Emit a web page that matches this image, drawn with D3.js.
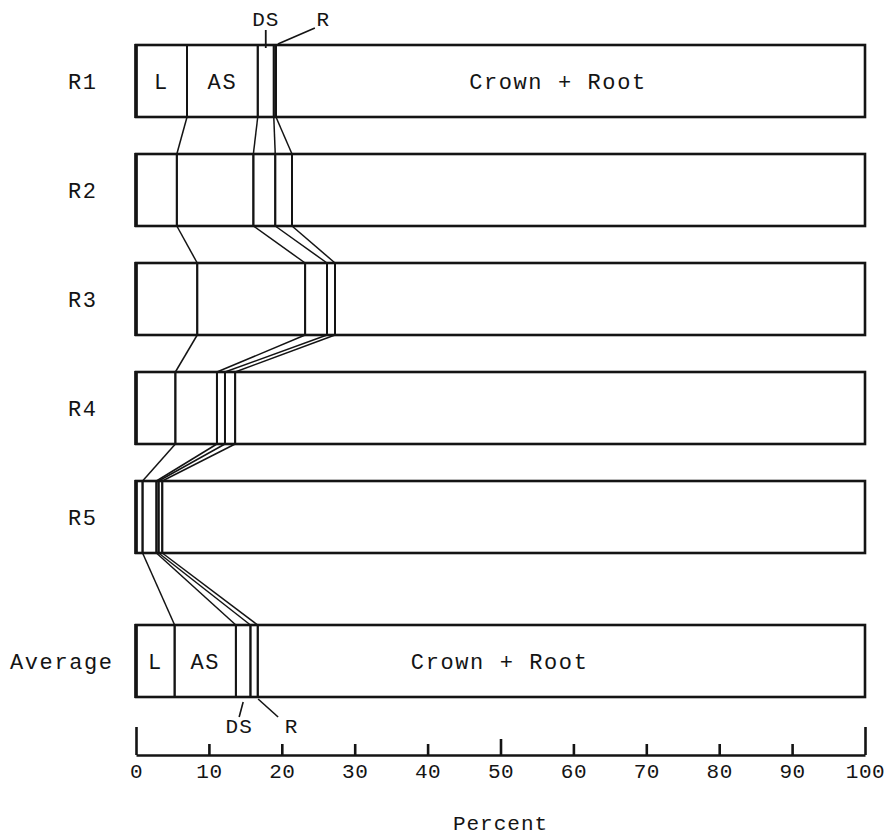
<!DOCTYPE html>
<html>
<head>
<meta charset="utf-8">
<script src="https://cdn.jsdelivr.net/npm/d3@7"></script>
<style>
  html, body { margin: 0; padding: 0; background: #fff; }
  svg text { font-family: "Liberation Mono", "Courier New", monospace; fill: #141414; }
</style>
</head>
<body>
<svg id="chart" width="895" height="839"></svg>
<script>
// Biomass distribution (percent of total) by plant component, per replicate
const categories = ["R1", "R2", "R3", "R4", "R5", "Average"];
const components = ["L", "AS", "DS", "R", "Crown + Root"];
const leafShare         = [7.0, 5.6, 8.4, 5.4, 0.9, 5.3];
const attachedStemShare = [9.7, 10.5, 14.8, 5.7, 1.9, 8.4];
const deadStemShare     = [2.2, 3.0, 3.0, 1.1, 0.3, 2.0];
const reproShare        = [0.3, 2.3, 1.1, 1.4, 0.5, 1.0];
const crownRootShare    = [80.8, 78.6, 72.7, 86.4, 96.4, 83.3];
const percentTicks = [0, 10, 20, 30, 40, 50, 60, 70, 80, 90, 100];
const axisTitle = "Percent";

const table = categories.map((c, i) => ({
  cat: c,
  "L": leafShare[i],
  "AS": attachedStemShare[i],
  "DS": deadStemShare[i],
  "R": reproShare[i],
  "Crown + Root": crownRootShare[i]
}));
const series = d3.stack().keys(components)(table);

const svg = d3.select("#chart");
const ink = "#141414";

const x = d3.scaleLinear().domain([0, 100]).range([136, 865]);

// replicate rows evenly spaced, the average set apart below them
const barH = 72;
const yRep = d3.scaleBand().domain(categories.slice(0, 5)).range([45, 45 + 109 * 5]).paddingInner(0).paddingOuter(0);
const avgGap = 35;
const rowTop = c => c === "Average" ? yRep("R5") + yRep.step() + avgGap : yRep(c);

const g = svg.append("g");

// segment boxes
series.forEach(s => {
  g.selectAll(null).data(s).enter().append("rect")
    .attr("x", d => x(d[0]))
    .attr("y", d => rowTop(d.data.cat))
    .attr("width", d => x(d[1]) - x(d[0]))
    .attr("height", barH)
    .attr("fill", "none")
    .attr("stroke", ink)
    .attr("stroke-width", 1.9);
});

// outer frames
g.selectAll(null).data(categories).enter().append("rect")
  .attr("x", x(0)).attr("y", c => rowTop(c))
  .attr("width", x(100) - x(0)).attr("height", barH)
  .attr("fill", "none").attr("stroke", ink).attr("stroke-width", 2.6);
g.selectAll(null).data(categories).enter().append("line")
  .attr("x1", x(0)).attr("x2", x(0))
  .attr("y1", c => rowTop(c) - 1).attr("y2", c => rowTop(c) + barH + 1)
  .attr("stroke", ink).attr("stroke-width", 3.6);

// connectors linking each boundary from one row to the next
for (let k = 0; k < 4; k++) {
  for (let i = 0; i < categories.length - 1; i++) {
    const a = series[k][i], b = series[k][i + 1];
    g.append("line")
      .attr("x1", x(a[1])).attr("y1", rowTop(categories[i]) + barH)
      .attr("x2", x(b[1])).attr("y2", rowTop(categories[i + 1]))
      .attr("stroke", ink).attr("stroke-width", 1.5);
  }
}

// row labels
g.selectAll(null).data(categories).enter().append("text")
  .attr("x", c => c === "Average" ? 10 : 68)
  .attr("y", c => rowTop(c) + barH / 2)
  .attr("dy", "0.35em")
  .attr("font-size", 22)
  .attr("letter-spacing", 1.6)
  .text(c => c);

// segment labels on first replicate and on the average
const segLabelRows = ["R1", "Average"];
segLabelRows.forEach(c => {
  const i = categories.indexOf(c);
  const yMid = rowTop(c) + barH / 2;
  [0, 1].forEach(k => {
    const d = series[k][i];
    g.append("text")
      .attr("x", x((d[0] + d[1]) / 2)).attr("y", yMid).attr("dy", "0.35em")
      .attr("text-anchor", "middle").attr("font-size", 22).attr("letter-spacing", 1.6)
      .text(components[k]);
  });
  const cr = series[4][i];
  g.append("text")
    .attr("x", x(c === "R1" ? cr[0] + 26.5 : cr[0] + 21))
    .attr("y", yMid).attr("dy", "0.35em")
    .attr("font-size", 22).attr("letter-spacing", 1.6)
    .text(components[4]);
});

// call-outs for the narrow DS and R segments
function mid(k, c) { const d = series[k][categories.indexOf(c)]; return (d[0] + d[1]) / 2; }
const t1 = rowTop("R1");
g.append("line").attr("x1", x(mid(2, "R1"))).attr("x2", x(mid(2, "R1")))
  .attr("y1", t1 - 15).attr("y2", t1 + 3).attr("stroke", ink).attr("stroke-width", 1.8);
g.append("text").attr("x", x(mid(2, "R1"))).attr("y", t1 - 19)
  .attr("text-anchor", "middle").attr("font-size", 21).attr("letter-spacing", 1).text("DS");
g.append("line").attr("x1", x(mid(3, "R1")) + 3).attr("y1", t1 - 1)
  .attr("x2", x(mid(3, "R1")) + 40).attr("y2", t1 - 17).attr("stroke", ink).attr("stroke-width", 1.6);
g.append("text").attr("x", x(mid(3, "R1")) + 48).attr("y", t1 - 19)
  .attr("text-anchor", "middle").attr("font-size", 21).text("R");

const bA = rowTop("Average") + barH;
g.append("line").attr("x1", x(mid(2, "Average"))).attr("y1", bA + 5)
  .attr("x2", x(mid(2, "Average")) - 4).attr("y2", bA + 20).attr("stroke", ink).attr("stroke-width", 1.6);
g.append("text").attr("x", x(mid(2, "Average")) - 4).attr("y", bA + 36)
  .attr("text-anchor", "middle").attr("font-size", 21).attr("letter-spacing", 1).text("DS");
g.append("line").attr("x1", x(mid(3, "Average")) + 4).attr("y1", bA + 2)
  .attr("x2", x(mid(3, "Average")) + 24).attr("y2", bA + 20).attr("stroke", ink).attr("stroke-width", 1.6);
g.append("text").attr("x", x(mid(3, "Average")) + 37).attr("y", bA + 36)
  .attr("text-anchor", "middle").attr("font-size", 21).text("R");

// percent axis with ticks rising from the baseline
const axisY = 755;
const axis = d3.axisBottom(x).tickValues(percentTicks).tickSizeInner(-11).tickSizeOuter(0).tickPadding(8)
  .tickFormat(d3.format("d"));
const ax = svg.append("g").attr("transform", `translate(0,${axisY})`).call(axis);
ax.select(".domain").attr("stroke", ink).attr("stroke-width", 2.6);
ax.selectAll(".tick line").attr("stroke", ink).attr("stroke-width", 2.6)
  .attr("y2", d => (d === 0 || d === 100) ? -28 : d === 50 ? -16 : -11);
ax.selectAll(".tick text").attr("fill", ink).attr("font-size", 21)
  .attr("font-family", "\"Liberation Mono\", monospace").attr("letter-spacing", 0.5);

svg.append("text").attr("x", x(50)).attr("y", 830).attr("text-anchor", "middle")
  .attr("font-size", 21).attr("letter-spacing", 1).text(axisTitle);
</script>
</body>
</html>
